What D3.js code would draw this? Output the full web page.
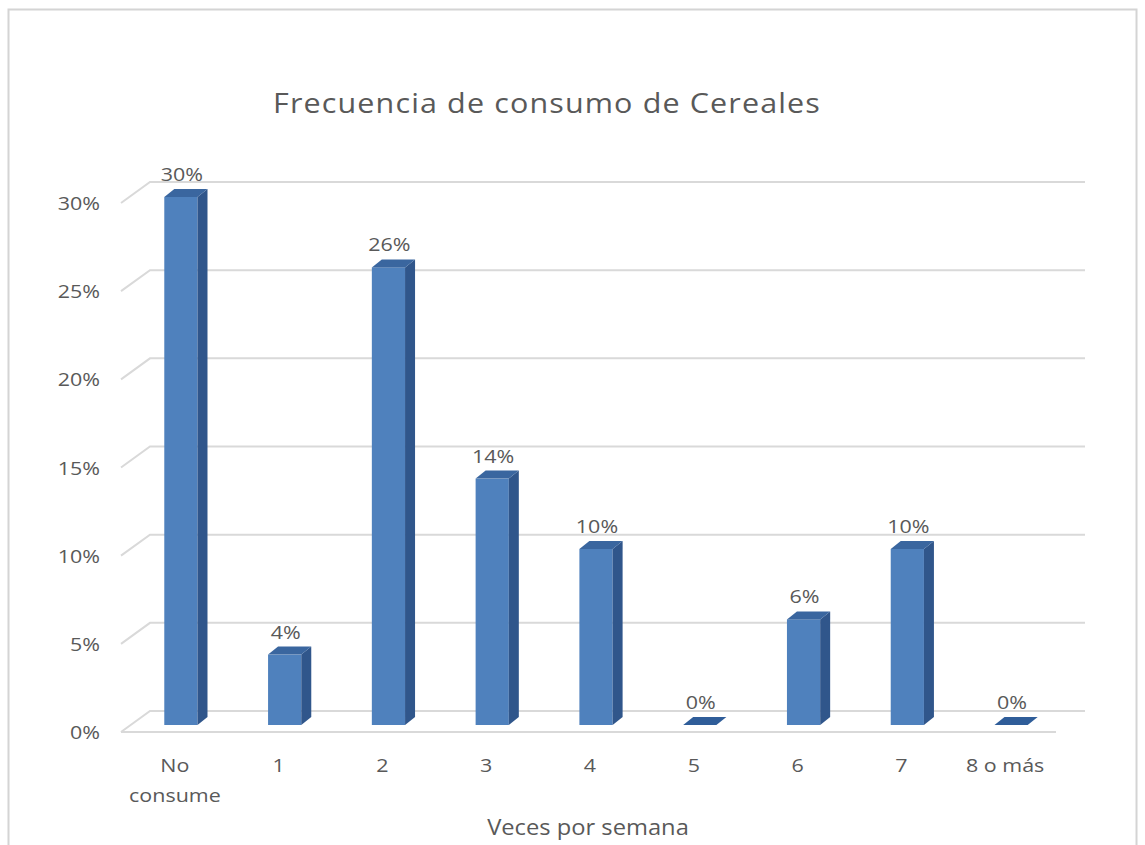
<!DOCTYPE html>
<html>
<head>
<meta charset="utf-8">
<script src="https://cdn.jsdelivr.net/npm/d3@7"></script>
<style>
  html, body { margin: 0; padding: 0; background: #ffffff; }
  svg { display: block; }
  text { font-family: "Open Sans", "Noto Sans", sans-serif; fill: #595959; }
</style>
</head>
<body>
<script>
// Frecuencia de consumo de cereales (veces por semana)
const categories = ["No consume", "1", "2", "3", "4", "5", "6", "7", "8 o más"];
const shares = [0.30, 0.04, 0.26, 0.14, 0.10, 0.00, 0.06, 0.10, 0.00];
const yTicks = [0, 0.05, 0.10, 0.15, 0.20, 0.25, 0.30];
const titleText = "Frecuencia de consumo de Cereales";
const xTitleText = "Veces por semana";

const W = 1145, H = 845;
const svg = d3.select("body").append("svg").attr("width", W).attr("height", H);

// outer chart frame
svg.append("rect")
  .attr("x", 8.5).attr("y", 9.5).attr("width", 1128).attr("height", 850)
  .attr("fill", "#ffffff").attr("stroke", "#d4d4d4").attr("stroke-width", 2);

// 3-D box geometry: floor depth and bar depth
const floorDx = 29, floorDy = -21;   // front edge -> back wall
const barDx = 10, barDy = -8;        // bar front face -> bar back face
const sx = 1.13;                      // horizontal stretch applied to text

// value scale on the back wall, and on the bar front plane
const yWall = d3.scaleLinear().domain([0, 0.30]).range([711, 182]);
const yBar = d3.scaleLinear().domain([0, 0.30]).range([725, 197]);

const x = d3.scaleBand().domain(categories)
  .range([129, 1063]).paddingInner(0.68).paddingOuter(0.34);

const wallLeft = 150, wallRight = 1085;
const grid = svg.append("g");
const gridColor = "#d9d9d9";

// gridlines: short diagonal on the left side wall + line on the back wall
yTicks.forEach(t => {
  const yb = yWall(t);
  grid.append("path")
    .attr("d", `M${wallLeft - floorDx},${yb - floorDy}L${wallLeft},${yb}L${wallRight},${yb}`)
    .attr("fill", "none").attr("stroke", gridColor).attr("stroke-width", 2);
});
// front edge of the floor
grid.append("path")
  .attr("d", `M${wallLeft - floorDx},${yWall(0) - floorDy}L${wallRight - floorDx},${yWall(0) - floorDy}`)
  .attr("fill", "none").attr("stroke", gridColor).attr("stroke-width", 2);

function stretchedText(parent, str, px, py, anchor, size, spacing) {
  const t = parent.append("text")
    .attr("text-anchor", anchor)
    .attr("font-size", size)
    .attr("transform", `translate(${px},${py}) scale(${sx},1)`)
    .text(str);
  if (spacing) t.attr("letter-spacing", spacing);
  return t;
}

// y tick labels, aligned to the front plane
const yLab = svg.append("g");
yTicks.forEach(t => {
  stretchedText(yLab, d3.format(".0%")(t), 100, yWall(t) - floorDy + 7, "end", 19);
});

// bars: front face, side face, top face
const barsG = svg.append("g");
const colFront = "#4f81bd", colSide = "#30568b", colTop = "#3a669f";
categories.forEach((c, i) => {
  const v = shares[i];
  const x0 = x(c), x1 = x(c) + x.bandwidth();
  const yb = yBar(0), yt = yBar(v);
  const g = barsG.append("g");
  if (v > 0) {
    g.append("rect").attr("x", x0).attr("y", yt).attr("width", x1 - x0).attr("height", yb - yt)
      .attr("fill", colFront);
    g.append("path")
      .attr("d", `M${x1},${yb}L${x1},${yt}L${x1 + barDx},${yt + barDy}L${x1 + barDx},${yb + barDy}Z`)
      .attr("fill", colSide);
  }
  g.append("path")
    .attr("d", `M${x0},${yt}L${x1},${yt}L${x1 + barDx},${yt + barDy}L${x0 + barDx},${yt + barDy}Z`)
    .attr("fill", v > 0 ? colTop : "#2f5d99");
  // value label above the bar
  stretchedText(barsG, d3.format(".0%")(v), x0 + x.bandwidth() / 2 + 1, yt - 16, "middle", 19);
});

// category labels (wrap "No consume" onto two lines)
const xLab = svg.append("g");
categories.forEach(c => {
  const cx = x(c) + x.bandwidth() / 2 - 6;
  const words = c === "No consume" ? ["No", "consume"] : [c];
  words.forEach((w, k) => {
    stretchedText(xLab, w, cx, 772 + k * 30, "middle", 19);
  });
});

// titles
stretchedText(svg, titleText, 547, 113, "middle", 27, 1);
stretchedText(svg, xTitleText, 588, 835, "middle", 21);
</script>
</body>
</html>
